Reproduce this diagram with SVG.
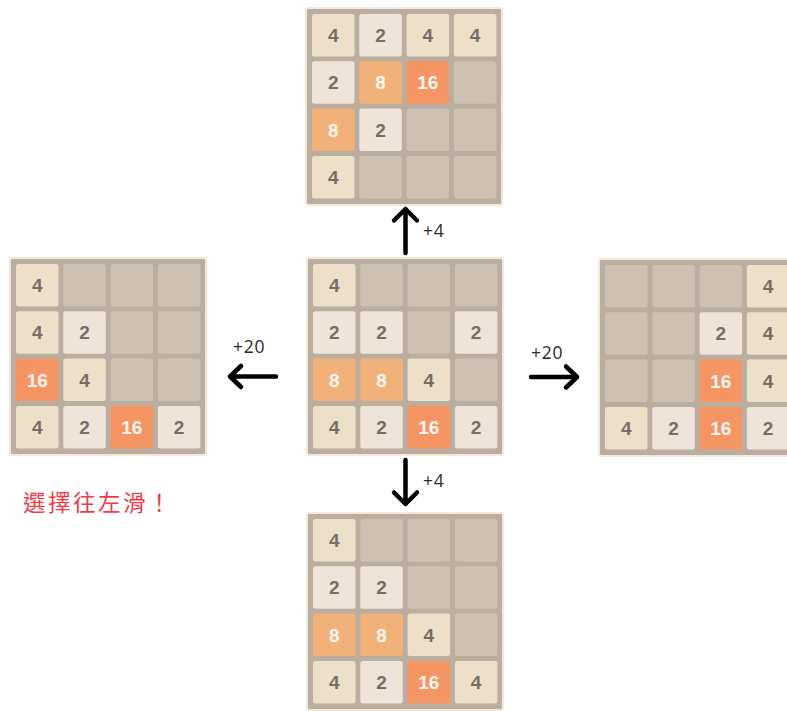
<svg xmlns="http://www.w3.org/2000/svg" width="787" height="711" viewBox="0 0 787 711">
<defs>
<style>
.board{fill:#bbada0;stroke:#f1e9da;stroke-width:2}
.t{rx:2.5;ry:2.5}
.e{fill:#cdc1b4}
.v2{fill:#eee4da}
.v4{fill:#ede0c8}
.v8{fill:#f2b179}
.v16{fill:#f59563}
.n{font-family:"Liberation Sans",Arial,sans-serif;font-weight:bold;font-size:19px;text-anchor:middle;fill:#776e65}
.w{fill:#f9f6f2}
.arrow{fill:none;stroke:#000;stroke-width:4.5;stroke-linecap:round;stroke-linejoin:round}
.lbl{font-family:"Open Sans","Noto Sans",sans-serif;font-size:17.5px;fill:#2a2a2a;letter-spacing:0.8px}
.note{font-family:"Noto Sans CJK TC","Noto Sans CJK SC",sans-serif;font-size:22.5px;fill:#ef3b48;letter-spacing:2.5px}
</style>
</defs>

<g id="board-top" transform="translate(306,8)">
<rect class="board" x="0" y="0" width="196" height="197" rx="2"/>
<rect class="t v4" x="6" y="6" width="42.5" height="42.5"/><rect class="t v2" x="53.3" y="6" width="42.5" height="42.5"/><rect class="t v4" x="100.6" y="6" width="42.5" height="42.5"/><rect class="t v4" x="147.9" y="6" width="42.5" height="42.5"/>
<rect class="t v2" x="6" y="53.3" width="42.5" height="42.5"/><rect class="t v8" x="53.3" y="53.3" width="42.5" height="42.5"/><rect class="t v16" x="100.6" y="53.3" width="42.5" height="42.5"/><rect class="t e" x="147.9" y="53.3" width="42.5" height="42.5"/>
<rect class="t v8" x="6" y="100.6" width="42.5" height="42.5"/><rect class="t v2" x="53.3" y="100.6" width="42.5" height="42.5"/><rect class="t e" x="100.6" y="100.6" width="42.5" height="42.5"/><rect class="t e" x="147.9" y="100.6" width="42.5" height="42.5"/>
<rect class="t v4" x="6" y="147.9" width="42.5" height="42.5"/><rect class="t e" x="53.3" y="147.9" width="42.5" height="42.5"/><rect class="t e" x="100.6" y="147.9" width="42.5" height="42.5"/><rect class="t e" x="147.9" y="147.9" width="42.5" height="42.5"/>
<text class="n" x="27.25" y="34">4</text><text class="n" x="74.55" y="34">2</text><text class="n" x="121.85" y="34">4</text><text class="n" x="169.15" y="34">4</text>
<text class="n" x="27.25" y="81.3">2</text><text class="n w" x="74.55" y="81.3">8</text><text class="n w" x="121.85" y="81.3">16</text>
<text class="n w" x="27.25" y="128.6">8</text><text class="n" x="74.55" y="128.6">2</text>
<text class="n" x="27.25" y="175.9">4</text>
</g>

<g id="board-center" transform="translate(307,258)">
<rect class="board" x="0" y="0" width="196" height="197" rx="2"/>
<rect class="t v4" x="6" y="6" width="42.5" height="42.5"/><rect class="t e" x="53.3" y="6" width="42.5" height="42.5"/><rect class="t e" x="100.6" y="6" width="42.5" height="42.5"/><rect class="t e" x="147.9" y="6" width="42.5" height="42.5"/>
<rect class="t v2" x="6" y="53.3" width="42.5" height="42.5"/><rect class="t v2" x="53.3" y="53.3" width="42.5" height="42.5"/><rect class="t e" x="100.6" y="53.3" width="42.5" height="42.5"/><rect class="t v2" x="147.9" y="53.3" width="42.5" height="42.5"/>
<rect class="t v8" x="6" y="100.6" width="42.5" height="42.5"/><rect class="t v8" x="53.3" y="100.6" width="42.5" height="42.5"/><rect class="t v4" x="100.6" y="100.6" width="42.5" height="42.5"/><rect class="t e" x="147.9" y="100.6" width="42.5" height="42.5"/>
<rect class="t v4" x="6" y="147.9" width="42.5" height="42.5"/><rect class="t v2" x="53.3" y="147.9" width="42.5" height="42.5"/><rect class="t v16" x="100.6" y="147.9" width="42.5" height="42.5"/><rect class="t v2" x="147.9" y="147.9" width="42.5" height="42.5"/>
<text class="n" x="27.25" y="34">4</text>
<text class="n" x="27.25" y="81.3">2</text><text class="n" x="74.55" y="81.3">2</text><text class="n" x="169.15" y="81.3">2</text>
<text class="n w" x="27.25" y="128.6">8</text><text class="n w" x="74.55" y="128.6">8</text><text class="n" x="121.85" y="128.6">4</text>
<text class="n" x="27.25" y="175.9">4</text><text class="n" x="74.55" y="175.9">2</text><text class="n w" x="121.85" y="175.9">16</text><text class="n" x="169.15" y="175.9">2</text>
</g>

<g id="board-left" transform="translate(10,258)">
<rect class="board" x="0" y="0" width="196" height="197" rx="2"/>
<rect class="t v4" x="6" y="6" width="42.5" height="42.5"/><rect class="t e" x="53.3" y="6" width="42.5" height="42.5"/><rect class="t e" x="100.6" y="6" width="42.5" height="42.5"/><rect class="t e" x="147.9" y="6" width="42.5" height="42.5"/>
<rect class="t v4" x="6" y="53.3" width="42.5" height="42.5"/><rect class="t v2" x="53.3" y="53.3" width="42.5" height="42.5"/><rect class="t e" x="100.6" y="53.3" width="42.5" height="42.5"/><rect class="t e" x="147.9" y="53.3" width="42.5" height="42.5"/>
<rect class="t v16" x="6" y="100.6" width="42.5" height="42.5"/><rect class="t v4" x="53.3" y="100.6" width="42.5" height="42.5"/><rect class="t e" x="100.6" y="100.6" width="42.5" height="42.5"/><rect class="t e" x="147.9" y="100.6" width="42.5" height="42.5"/>
<rect class="t v4" x="6" y="147.9" width="42.5" height="42.5"/><rect class="t v2" x="53.3" y="147.9" width="42.5" height="42.5"/><rect class="t v16" x="100.6" y="147.9" width="42.5" height="42.5"/><rect class="t v2" x="147.9" y="147.9" width="42.5" height="42.5"/>
<text class="n" x="27.25" y="34">4</text>
<text class="n" x="27.25" y="81.3">4</text><text class="n" x="74.55" y="81.3">2</text>
<text class="n w" x="27.25" y="128.6">16</text><text class="n" x="74.55" y="128.6">4</text>
<text class="n" x="27.25" y="175.9">4</text><text class="n" x="74.55" y="175.9">2</text><text class="n w" x="121.85" y="175.9">16</text><text class="n" x="169.15" y="175.9">2</text>
</g>

<g id="board-right" transform="translate(599,259)">
<rect class="board" x="0" y="0" width="196" height="197" rx="2"/>
<rect class="t e" x="6" y="6" width="42.5" height="42.5"/><rect class="t e" x="53.3" y="6" width="42.5" height="42.5"/><rect class="t e" x="100.6" y="6" width="42.5" height="42.5"/><rect class="t v4" x="147.9" y="6" width="42.5" height="42.5"/>
<rect class="t e" x="6" y="53.3" width="42.5" height="42.5"/><rect class="t e" x="53.3" y="53.3" width="42.5" height="42.5"/><rect class="t v2" x="100.6" y="53.3" width="42.5" height="42.5"/><rect class="t v4" x="147.9" y="53.3" width="42.5" height="42.5"/>
<rect class="t e" x="6" y="100.6" width="42.5" height="42.5"/><rect class="t e" x="53.3" y="100.6" width="42.5" height="42.5"/><rect class="t v16" x="100.6" y="100.6" width="42.5" height="42.5"/><rect class="t v4" x="147.9" y="100.6" width="42.5" height="42.5"/>
<rect class="t v4" x="6" y="147.9" width="42.5" height="42.5"/><rect class="t v2" x="53.3" y="147.9" width="42.5" height="42.5"/><rect class="t v16" x="100.6" y="147.9" width="42.5" height="42.5"/><rect class="t v2" x="147.9" y="147.9" width="42.5" height="42.5"/>
<text class="n" x="169.15" y="34">4</text>
<text class="n" x="121.85" y="81.3">2</text><text class="n" x="169.15" y="81.3">4</text>
<text class="n w" x="121.85" y="128.6">16</text><text class="n" x="169.15" y="128.6">4</text>
<text class="n" x="27.25" y="175.9">4</text><text class="n" x="74.55" y="175.9">2</text><text class="n w" x="121.85" y="175.9">16</text><text class="n" x="169.15" y="175.9">2</text>
</g>

<g id="board-bottom" transform="translate(307,513)">
<rect class="board" x="0" y="0" width="196" height="197" rx="2"/>
<rect class="t v4" x="6" y="6" width="42.5" height="42.5"/><rect class="t e" x="53.3" y="6" width="42.5" height="42.5"/><rect class="t e" x="100.6" y="6" width="42.5" height="42.5"/><rect class="t e" x="147.9" y="6" width="42.5" height="42.5"/>
<rect class="t v2" x="6" y="53.3" width="42.5" height="42.5"/><rect class="t v2" x="53.3" y="53.3" width="42.5" height="42.5"/><rect class="t e" x="100.6" y="53.3" width="42.5" height="42.5"/><rect class="t e" x="147.9" y="53.3" width="42.5" height="42.5"/>
<rect class="t v8" x="6" y="100.6" width="42.5" height="42.5"/><rect class="t v8" x="53.3" y="100.6" width="42.5" height="42.5"/><rect class="t v4" x="100.6" y="100.6" width="42.5" height="42.5"/><rect class="t e" x="147.9" y="100.6" width="42.5" height="42.5"/>
<rect class="t v4" x="6" y="147.9" width="42.5" height="42.5"/><rect class="t v2" x="53.3" y="147.9" width="42.5" height="42.5"/><rect class="t v16" x="100.6" y="147.9" width="42.5" height="42.5"/><rect class="t v4" x="147.9" y="147.9" width="42.5" height="42.5"/>
<text class="n" x="27.25" y="34">4</text>
<text class="n" x="27.25" y="81.3">2</text><text class="n" x="74.55" y="81.3">2</text>
<text class="n w" x="27.25" y="128.6">8</text><text class="n w" x="74.55" y="128.6">8</text><text class="n" x="121.85" y="128.6">4</text>
<text class="n" x="27.25" y="175.9">4</text><text class="n" x="74.55" y="175.9">2</text><text class="n w" x="121.85" y="175.9">16</text><text class="n" x="169.15" y="175.9">4</text>
</g>

<g id="connectors">
<path class="arrow" d="M405.5,253 V209 M394,220.5 L405.5,209 L417,220.5"/>
<path class="arrow" d="M405.5,460 V504 M394,492.5 L405.5,504 L417,492.5"/>
<path class="arrow" d="M276,376.5 H230 M241,366 L230,376.5 L241,387"/>
<path class="arrow" d="M531,377 H577 M566,366.5 L577,377 L566,387.5"/>
</g>

<g id="labels">
<text class="lbl" x="423" y="237">+4</text>
<text class="lbl" x="423" y="487">+4</text>
<text class="lbl" x="233" y="353">+20</text>
<text class="lbl" x="531" y="359">+20</text>
<text class="note" x="23" y="511">選擇往左滑！</text>
</g>
</svg>
